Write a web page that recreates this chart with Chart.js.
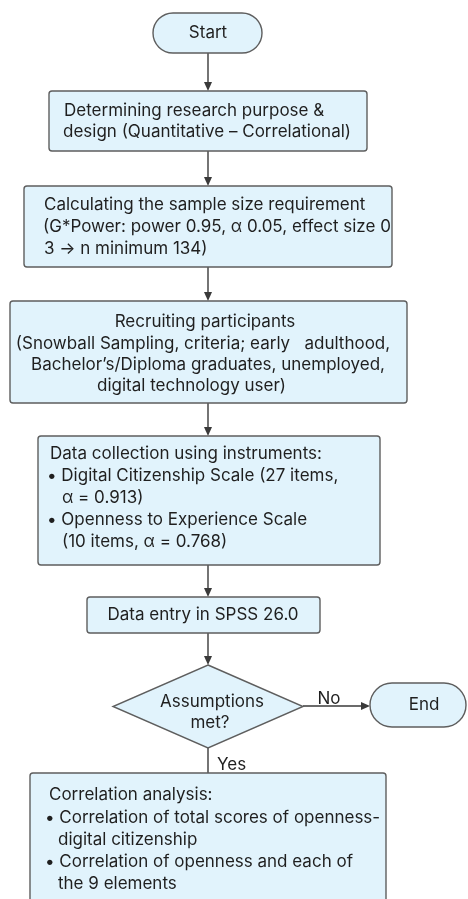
<!DOCTYPE html>
<html>
<head>
<meta charset="utf-8">
<script src="https://cdn.jsdelivr.net/npm/chart.js@4/dist/chart.umd.min.js"></script>
<style>
html,body{margin:0;padding:0;background:#ffffff;}
#wrap{width:468px;height:899px;overflow:hidden;}
</style>
</head>
<body>
<div id="wrap"><canvas id="c" width="468" height="899"></canvas></div>
<script>
// ---- DATA (text content of the flowchart) ----
const startLabel = ['Start'];
const designLines = ['Determining research purpose &', 'design (Quantitative \u2013 Correlational)'];
const sampleLines = ['Calculating the sample size requirement', '(G*Power: power 0.95, \u03b1 0.05, effect size 0', '3 \u2192 n minimum 134)'];
const recruitLines = ['Recruiting participants', '(Snowball Sampling, criteria; early   adulthood,', 'Bachelor\u2019s/Diploma graduates, unemployed,', 'digital technology user)'];
const instrumentLines = ['Data collection using instruments:', '\u2022 Digital Citizenship Scale (27 items,', '\u03b1 = 0.913)', '\u2022 Openness to Experience Scale', '(10 items, \u03b1 = 0.768)'];
const entryLines = ['Data entry in SPSS 26.0'];
const decisionLines = ['Assumptions', 'met?'];
const endLabel = ['End'];
const analysisLines = ['Correlation analysis:', '\u2022 Correlation of total scores of openness-', 'digital citizenship', '\u2022 Correlation of openness and each of', 'the 9 elements'];
const branchLabels = ['Yes', 'No'];

// ---- LAYOUT (positions / sizes, in chart units) ----
const FONT = 'Inter, "Liberation Sans", Arial, sans-serif';
const FS = 17;
const layout = [
  {shape:'pill', x0:153, x1:262, y0:13, y1:53, lines:startLabel, tx:[[208,'center']], ty:[33]},
  {shape:'rect', x0:49, x1:367, y0:91, y1:151, lines:designLines, tx:[[64,'left'],[63,'left']], ty:[111,132]},
  {shape:'rect', x0:24, x1:392, y0:186, y1:267, lines:sampleLines, tx:[[44,'left'],[43,'left'],[44,'left']], ty:[205,227,249]},
  {shape:'rect', x0:10, x1:407, y0:301, y1:403, lines:recruitLines, tx:[[205,'center'],[203,'center'],[208,'center'],[97,'left']], ty:[322,344,365,386]},
  {shape:'rect', x0:38, x1:380, y0:436, y1:565, lines:instrumentLines, tx:[[50,'left'],[47,'left'],[62,'left'],[47,'left'],[62,'left']], ty:[454,476,498,520,542]},
  {shape:'rect', x0:87, x1:320, y0:597, y1:633, lines:entryLines, tx:[[203,'center']], ty:[615]},
  {shape:'diamond', x0:113, x1:303, y0:665, y1:748, lines:decisionLines, tx:[[212,'center'],[210,'center']], ty:[702,723]},
  {shape:'pill', x0:370, x1:466, y0:683, y1:727, lines:endLabel, tx:[[424,'center']], ty:[705]},
  {shape:'rect', x0:30, x1:386, y0:773, y1:912, lines:analysisLines, tx:[[49,'left'],[45,'left'],[58,'left'],[45,'left'],[58,'left']], ty:[795,818,840,862,884]}
];
const arrows = [
  {x0:208,y0:53,x1:208,y1:91,head:true},
  {x0:208,y0:151,x1:208,y1:186,head:true},
  {x0:208,y0:267,x1:208,y1:301,head:true},
  {x0:208,y0:403,x1:208,y1:436,head:true},
  {x0:208,y0:565,x1:208,y1:597,head:true},
  {x0:208,y0:633,x1:208,y1:665,head:true},
  {x0:208,y0:748,x1:208,y1:773,head:false},
  {x0:303,y0:706,x1:370,y1:706,head:true}
];
const branchPos = [[217,765,'left'],[329,699,'center']];

const FILL = '#e1f3fc';
const STROKE = '#5e5e5e';
const TEXT = '#1f1f1f';
const LINE = '#3a3a3a';

const flowPlugin = {
  id:'flow',
  afterDraw(chart){
    const ctx = chart.ctx;
    const X = v => chart.scales.x.getPixelForValue(v);
    const Y = v => chart.scales.y.getPixelForValue(v);
    ctx.save();
    ctx.strokeStyle = LINE; ctx.fillStyle = LINE; ctx.lineWidth = 1.4;
    arrows.forEach(a => {
      const x0=X(a.x0), y0=Y(a.y0), x1=X(a.x1), y1=Y(a.y1);
      const horiz = Math.abs(y1-y0) < 1;
      const hl = a.head ? 8 : 0;
      ctx.beginPath();
      ctx.moveTo(x0,y0);
      if (horiz) ctx.lineTo(x1-hl,y1); else ctx.lineTo(x1,y1-hl);
      ctx.stroke();
      if (a.head){
        ctx.beginPath();
        if (horiz){ ctx.moveTo(x1,y1); ctx.lineTo(x1-9,y1-4); ctx.lineTo(x1-9,y1+4); }
        else { ctx.moveTo(x1,y1); ctx.lineTo(x1-4,y1-9); ctx.lineTo(x1+4,y1-9); }
        ctx.closePath(); ctx.fill();
      }
    });
    layout.forEach(n => {
      const x0=X(n.x0), x1=X(n.x1), y0=Y(n.y0), y1=Y(n.y1);
      ctx.beginPath();
      if (n.shape==='rect'){
        ctx.roundRect(x0,y0,x1-x0,y1-y0,3);
      } else if (n.shape==='pill'){
        ctx.roundRect(x0,y0,x1-x0,y1-y0,(y1-y0)/2);
      } else {
        const cx=(x0+x1)/2, cy=(y0+y1)/2;
        ctx.moveTo(cx,y0); ctx.lineTo(x1,cy); ctx.lineTo(cx,y1); ctx.lineTo(x0,cy); ctx.closePath();
      }
      ctx.fillStyle = FILL; ctx.fill();
      ctx.strokeStyle = STROKE; ctx.lineWidth = 1.4; ctx.stroke();
      ctx.fillStyle = TEXT;
      ctx.font = FS + 'px ' + FONT;
      ctx.textBaseline = 'middle';
      n.lines.forEach((t,i) => {
        ctx.textAlign = n.tx[i][1];
        ctx.fillText(t, X(n.tx[i][0]), Y(n.ty[i]));
      });
    });
    ctx.fillStyle = TEXT; ctx.font = FS + 'px ' + FONT; ctx.textBaseline='middle';
    branchLabels.forEach((t,i) => {
      ctx.textAlign = branchPos[i][2];
      ctx.fillText(t, X(branchPos[i][0]), Y(branchPos[i][1]));
    });
    ctx.restore();
  }
};

const nodeCenters = layout.map(n => ({x:(n.x0+n.x1)/2, y:(n.y0+n.y1)/2}));

new Chart(document.getElementById('c'), {
  type:'scatter',
  data:{datasets:[{label:'nodes', data:nodeCenters, pointRadius:0, pointHoverRadius:0}]},
  options:{
    responsive:false, animation:false, events:[],
    layout:{padding:0},
    plugins:{legend:{display:false}, tooltip:{enabled:false}},
    scales:{
      x:{type:'linear', min:0, max:468, display:false},
      y:{type:'linear', min:0, max:899, reverse:true, display:false}
    }
  },
  plugins:[flowPlugin]
});
</script>
</body>
</html>
